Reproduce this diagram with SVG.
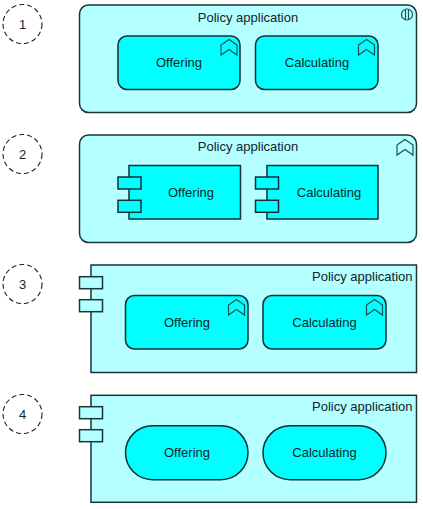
<svg xmlns="http://www.w3.org/2000/svg" width="423" height="509" viewBox="0 0 423 509">
<style>
text{font-family:"Liberation Sans",Arial,sans-serif;font-size:13px;fill:#12262a;text-anchor:middle}
.end{text-anchor:end}
.outer{fill:#b4ffff;stroke:#1a3438;stroke-width:1.500}
.inner{fill:#00ffff;stroke:#123034;stroke-width:1.500}
.tabl{fill:#b4ffff;stroke:#1a3438;stroke-width:1.500}
.mark{fill:none;stroke:#1f5055;stroke-width:1.200}
.num{fill:#fff;stroke:#222;stroke-width:1.100;stroke-dasharray:5 3}
</style>
<defs>
<path id="chev" class="mark" d="M-8 8V-2L0-7.500L8-2V8L0 2.500Z"/>
</defs>
<rect width="423" height="509" fill="#fff"/>
<g id="n1"><circle class="num" cx="22.500" cy="24" r="19.500"/><text x="22.500" y="29">1</text></g>
<g id="n2"><circle class="num" cx="22.500" cy="154" r="19.500"/><text x="22.500" y="159">2</text></g>
<g id="n3"><circle class="num" cx="22.500" cy="284" r="19.500"/><text x="22.500" y="289">3</text></g>
<g id="n4"><circle class="num" cx="22.500" cy="414" r="19.500"/><text x="22.500" y="419">4</text></g>

<g id="panel1">
<rect class="outer" x="79.500" y="5" width="337" height="107.500" rx="9"/>
<text x="248" y="21.500">Policy application</text>
<g class="mark"><circle cx="407" cy="14.500" r="5.500"/><path d="M405.500 9.500V19.500M408.500 9.500V19.500"/></g>
</g>
<g id="p1-offering">
<rect class="inner" x="118" y="36" width="122" height="53.500" rx="9"/>
<use href="#chev" x="229" y="47"/>
<text x="179" y="67">Offering</text>
</g>
<g id="p1-calculating">
<rect class="inner" x="255.500" y="36" width="122.500" height="53.500" rx="9"/>
<use href="#chev" x="366.500" y="47"/>
<text x="317" y="67">Calculating</text>
</g>

<g id="panel2">
<rect class="outer" x="79.500" y="135" width="337" height="107.500" rx="9"/>
<text x="248" y="151">Policy application</text>
<use href="#chev" x="405" y="147"/>
</g>
<g id="p2-offering">
<rect class="inner" x="129" y="165.500" width="111.500" height="53.500"/>
<rect class="inner" x="118" y="177" width="23" height="12"/>
<rect class="inner" x="118" y="200.300" width="23" height="12"/>
<text x="191" y="197">Offering</text>
</g>
<g id="p2-calculating">
<rect class="inner" x="267" y="165.500" width="111" height="53.500"/>
<rect class="inner" x="255.500" y="177" width="23" height="12"/>
<rect class="inner" x="255.500" y="200.300" width="23" height="12"/>
<text x="329" y="197">Calculating</text>
</g>

<g id="panel3">
<rect class="outer" x="91" y="265" width="325.500" height="107.500"/>
<rect class="tabl" x="79.500" y="276.700" width="23" height="12"/>
<rect class="tabl" x="79.500" y="299.700" width="23" height="12"/>
<text class="end" x="412.500" y="281">Policy application</text>
</g>
<g id="p3-offering">
<rect class="inner" x="125.500" y="295.500" width="122.500" height="53.500" rx="9"/>
<use href="#chev" x="236.500" y="307"/>
<text x="187" y="327">Offering</text>
</g>
<g id="p3-calculating">
<rect class="inner" x="263" y="295.500" width="123" height="53.500" rx="9"/>
<use href="#chev" x="374.500" y="307"/>
<text x="324.500" y="327">Calculating</text>
</g>

<g id="panel4">
<rect class="outer" x="91" y="395.300" width="325.500" height="107"/>
<rect class="tabl" x="79.500" y="406.700" width="23" height="12"/>
<rect class="tabl" x="79.500" y="429.700" width="23" height="12"/>
<text class="end" x="412.500" y="411">Policy application</text>
</g>
<g id="p4-offering">
<rect class="inner" x="125.500" y="425.700" width="122.500" height="54" rx="27"/>
<text x="187" y="457">Offering</text>
</g>
<g id="p4-calculating">
<rect class="inner" x="263" y="425.700" width="123" height="54" rx="27"/>
<text x="324.500" y="457">Calculating</text>
</g>
</svg>
